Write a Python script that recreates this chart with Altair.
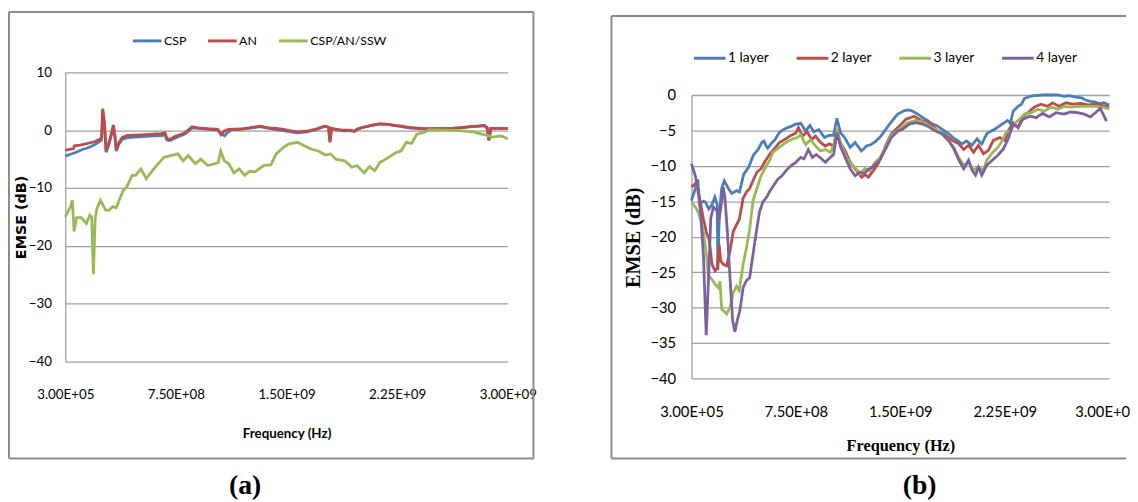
import altair as alt
import pandas as pd

# ---------------- data (frequency in GHz, EMSE in dB) ----------------
FREQ_TICKS = [0.0003, 0.75, 1.5, 2.25, 3.0]
FREQ_LABELS_A = ["3.00E+05", "7.50E+08", "1.50E+09", "2.25E+09", "3.00E+09"]
# the right edge of panel (b) is cropped in the source figure
FREQ_LABELS_B = ["3.00E+05", "7.50E+08", "1.50E+09", "2.25E+09", "3.00E+0"]
Y_TICKS_A = [-40, -30, -20, -10, 0, 10]
Y_TICKS_B = [-40, -35, -30, -25, -20, -15, -10, -5, 0]

SERIES_A = ["CSP", "AN", "CSP/AN/SSW"]
SERIES_B = ["1 layer", "2 layer", "3 layer", "4 layer"]
CAPTIONS = ["(a)", "(b)"]

CSP = [(0.0,-4.5),(0.03,-4.2),(0.07,-3.85),(0.12,-3.3),(0.16,-3.0),(0.20,-2.5),(0.23,-2.0),(0.246,-1.7),
       (0.254,3.4),(0.266,1.0),(0.277,-3.8),(0.297,-2.4),(0.315,-0.6),(0.326,0.7),(0.337,-1.2),(0.346,-3.6),
       (0.364,-2.4),(0.386,-1.6),(0.42,-1.3),(0.47,-1.2),(0.52,-1.1),(0.57,-1.05),(0.61,-1.0),(0.65,-0.95),
       (0.676,-0.8),(0.69,-1.7),(0.71,-1.8),(0.743,-1.4),(0.777,-1.0),(0.80,-0.8),(0.82,-0.5),(0.86,0.4),
       (0.90,0.3),(0.966,0.15),(1.033,0.05),(1.06,-0.6),(1.08,-1.0),(1.10,-0.4),(1.13,0.1),(1.19,0.15),
       (1.25,0.35),(1.32,0.6),(1.38,0.3),(1.43,0.1),(1.48,-0.1),(1.53,-0.3),(1.57,-0.45),(1.64,-0.3),
       (1.70,0.1),(1.76,0.7),(1.785,0.5),(1.795,-2.0),(1.805,0.3),(1.83,0.1),(1.88,-0.1),(1.93,-0.1),
       (1.96,-0.2),(1.98,0.1),(2.02,0.5),(2.07,0.8),(2.13,1.1),(2.19,1.0),(2.24,0.8),(2.28,0.6),(2.33,0.4),
       (2.37,0.3),(2.42,0.2),(2.46,0.2),(2.55,0.25),(2.62,0.3),(2.68,0.45),(2.75,0.6),(2.80,0.7),(2.84,0.8),
       (2.86,0.4),(2.872,-1.6),(2.885,0.3),(2.93,0.3),(2.97,0.25),(3.0,0.3)]

AN = [(0.0,-3.5),(0.03,-3.3),(0.055,-3.2),(0.062,-2.7),(0.10,-2.6),(0.15,-2.3),(0.20,-2.0),(0.23,-1.6),
      (0.246,-1.4),(0.254,3.7),(0.266,1.3),(0.277,-3.6),(0.297,-2.1),(0.315,-0.4),(0.326,0.9),(0.337,-1.0),
      (0.346,-3.4),(0.364,-2.1),(0.386,-1.3),(0.42,-0.9),(0.47,-0.85),(0.52,-0.8),(0.57,-0.75),(0.61,-0.65),
      (0.65,-0.6),(0.676,-0.45),(0.69,-1.45),(0.71,-1.6),(0.743,-1.1),(0.777,-0.8),(0.80,-0.6),(0.82,-0.3),
      (0.86,0.6),(0.90,0.4),(0.966,0.25),(1.033,0.15),(1.056,-0.8),(1.078,-0.15),(1.11,0.15),(1.19,0.2),
      (1.25,0.4),(1.32,0.7),(1.38,0.4),(1.43,0.3),(1.48,0.14),(1.53,-0.1),(1.57,-0.3),(1.64,-0.15),
      (1.70,0.2),(1.76,0.7),(1.785,0.5),(1.795,-2.1),(1.805,0.3),(1.83,0.2),(1.88,0.0),(1.93,0.0),
      (1.96,-0.2),(1.98,0.2),(2.02,0.5),(2.07,0.8),(2.13,1.1),(2.19,1.0),(2.24,0.8),(2.28,0.7),(2.33,0.5),
      (2.37,0.4),(2.42,0.3),(2.46,0.25),(2.55,0.25),(2.62,0.3),(2.68,0.4),(2.75,0.6),(2.80,0.7),(2.84,0.8),
      (2.86,0.4),(2.872,-1.8),(2.885,0.3),(2.93,0.3),(2.97,0.25),(3.0,0.3)]

SSW = [(0.0,-15.0),(0.036,-13.2),(0.048,-12.1),(0.060,-17.5),(0.077,-15.1),(0.108,-15.1),(0.143,-16.1),
       (0.167,-14.7),(0.179,-15.0),(0.191,-24.9),(0.203,-15.2),(0.215,-13.5),(0.239,-12.1),(0.274,-13.8),
       (0.298,-13.8),(0.322,-13.2),(0.346,-13.4),(0.370,-11.8),(0.394,-10.4),(0.417,-9.8),(0.453,-7.8),
       (0.477,-7.8),(0.513,-6.7),(0.549,-8.4),(0.584,-7.2),(0.620,-6.1),(0.668,-4.7),(0.715,-4.4),
       (0.763,-4.1),(0.799,-5.3),(0.834,-4.4),(0.882,-5.8),(0.918,-5.0),(0.966,-6.1),(1.013,-5.8),
       (1.037,-5.6),(1.054,-3.6),(1.078,-5.3),(1.109,-5.8),(1.144,-7.4),(1.180,-6.7),(1.216,-7.8),
       (1.251,-7.1),(1.287,-7.2),(1.347,-6.1),(1.394,-6.0),(1.430,-4.1),(1.478,-3.0),(1.514,-2.4),
       (1.573,-2.1),(1.621,-2.7),(1.669,-3.3),(1.716,-3.6),(1.764,-4.3),(1.800,-4.1),(1.835,-5.0),
       (1.895,-5.3),(1.943,-6.4),(1.978,-6.1),(2.026,-7.4),(2.062,-6.3),(2.098,-7.0),(2.133,-5.6),
       (2.193,-4.7),(2.240,-3.9),(2.276,-3.6),(2.312,-2.1),(2.348,-2.3),(2.383,-0.7),(2.431,-0.4),
       (2.467,0.1),(2.574,0.0),(2.669,-0.1),(2.765,-0.3),(2.812,-0.6),(2.860,-0.9),(2.896,-1.2),
       (2.955,-1.0),(3.0,-1.5)]

L1 = [(0.0,-14.9),(0.028,-13.2),(0.045,-11.9),(0.059,-15.3),(0.087,-15.0),(0.10,-15.1),(0.125,-16.1),
      (0.147,-15.5),(0.168,-14.4),(0.185,-15.5),(0.19,-24.7),(0.20,-16.9),(0.217,-13.2),(0.236,-12.1),
      (0.265,-13.2),(0.29,-13.9),(0.324,-13.5),(0.345,-13.7),(0.375,-11.2),(0.41,-10.2),(0.445,-8.5),
      (0.478,-7.7),(0.505,-6.7),(0.52,-6.5),(0.537,-7.2),(0.548,-7.5),(0.575,-6.8),(0.60,-6.3),(0.631,-5.3),
      (0.66,-4.9),(0.69,-4.6),(0.72,-4.4),(0.749,-4.1),(0.785,-4.0),(0.82,-5.1),(0.851,-4.3),(0.879,-5.2),
      (0.915,-4.9),(0.955,-6.0),(0.986,-5.7),(1.02,-5.7),(1.045,-3.3),(1.07,-5.3),(1.10,-6.0),(1.14,-7.4),
      (1.175,-6.7),(1.22,-7.9),(1.258,-7.2),(1.29,-7.0),(1.324,-6.5),(1.352,-6.0),(1.39,-5.0),(1.423,-4.1),
      (1.46,-3.2),(1.482,-2.7),(1.53,-2.2),(1.56,-2.1),(1.589,-2.3),(1.625,-2.7),(1.66,-3.2),(1.695,-3.6),
      (1.73,-4.1),(1.76,-4.3),(1.79,-4.7),(1.82,-5.1),(1.85,-5.5),(1.878,-6.0),(1.908,-6.4),(1.943,-6.9),
      (1.975,-6.5),(2.014,-7.1),(2.05,-6.2),(2.085,-6.9),(2.12,-5.5),(2.15,-5.1),(2.18,-4.8),(2.21,-4.4),
      (2.238,-4.0),(2.27,-3.6),(2.29,-4.0),(2.31,-2.3),(2.345,-1.6),(2.37,-1.3),(2.39,-0.5),(2.43,-0.2),
      (2.46,-0.1),(2.53,0.0),(2.63,0.0),(2.676,-0.2),(2.71,-0.1),(2.76,-0.3),(2.80,-0.4),(2.83,-0.7),
      (2.865,-0.9),(2.90,-1.0),(2.93,-1.2),(2.96,-1.1),(3.0,-1.4)]

L2 = [(0.0,-13.0),(0.028,-12.5),(0.045,-13.0),(0.064,-15.1),(0.087,-17.6),(0.111,-19.7),(0.123,-20.0),
      (0.135,-21.6),(0.147,-23.9),(0.17,-24.8),(0.187,-24.4),(0.199,-21.1),(0.21,-23.4),(0.229,-23.9),
      (0.253,-24.1),(0.277,-22.0),(0.30,-19.3),(0.324,-18.3),(0.343,-17.6),(0.371,-14.6),(0.395,-13.7),
      (0.418,-13.2),(0.442,-12.1),(0.47,-10.9),(0.50,-10.4),(0.525,-9.5),(0.548,-8.8),(0.572,-8.1),
      (0.608,-7.3),(0.631,-6.7),(0.678,-6.2),(0.714,-5.7),(0.749,-5.4),(0.768,-4.6),(0.797,-5.8),
      (0.832,-5.2),(0.863,-6.3),(0.891,-5.8),(0.927,-6.7),(0.962,-7.2),(0.99,-6.9),(1.021,-7.2),
      (1.045,-4.9),(1.069,-6.7),(1.104,-7.9),(1.14,-9.5),(1.175,-10.4),(1.222,-11.6),(1.246,-11.2),
      (1.27,-11.6),(1.305,-10.7),(1.34,-9.7),(1.365,-8.6),(1.40,-6.9),(1.435,-5.5),(1.482,-4.6),
      (1.541,-3.4),(1.60,-3.0),(1.648,-3.6),(1.707,-3.9),(1.766,-5.0),(1.813,-5.5),(1.872,-6.4),
      (1.92,-6.9),(1.955,-7.7),(1.99,-7.1),(2.026,-8.1),(2.061,-7.1),(2.097,-8.3),(2.132,-7.8),
      (2.168,-6.4),(2.215,-6.0),(2.25,-6.4),(2.274,-5.1),(2.31,-3.9),(2.345,-4.6),(2.38,-3.0),
      (2.416,-2.5),(2.463,-1.7),(2.51,-1.3),(2.557,-1.6),(2.593,-1.1),(2.64,-1.6),(2.688,-1.1),
      (2.735,-1.3),(2.794,-1.2),(2.85,-1.4),(2.90,-1.3),(2.95,-1.5),(3.0,-1.7)]

L3 = [(0.0,-15.1),(0.028,-15.8),(0.052,-16.7),(0.076,-18.3),(0.099,-21.1),(0.123,-25.5),(0.147,-26.0),
      (0.17,-26.7),(0.194,-27.2),(0.205,-26.3),(0.217,-30.2),(0.24,-30.6),(0.253,-30.9),(0.277,-30.0),
      (0.300,-27.9),(0.324,-27.0),(0.343,-27.6),(0.371,-23.9),(0.395,-21.6),(0.418,-19.0),(0.442,-14.9),
      (0.47,-13.2),(0.50,-11.4),(0.532,-10.2),(0.56,-9.3),(0.584,-8.1),(0.631,-7.4),(0.678,-6.7),
      (0.726,-6.2),(0.761,-6.0),(0.785,-5.6),(0.82,-7.0),(0.856,-6.3),(0.891,-7.2),(0.927,-7.9),
      (0.962,-7.7),(0.998,-8.1),(1.021,-7.2),(1.045,-5.1),(1.069,-6.7),(1.104,-8.4),(1.14,-9.7),
      (1.175,-10.2),(1.21,-11.1),(1.246,-10.4),(1.281,-10.7),(1.317,-9.5),(1.352,-8.9),(1.40,-7.1),
      (1.435,-5.7),(1.494,-4.8),(1.553,-3.9),(1.612,-3.6),(1.671,-3.9),(1.73,-4.6),(1.79,-5.3),
      (1.837,-6.2),(1.884,-7.4),(1.92,-8.8),(1.955,-9.9),(1.99,-9.5),(2.026,-10.6),(2.061,-10.2),
      (2.097,-10.6),(2.12,-9.2),(2.163,-8.1),(2.20,-7.4),(2.234,-6.4),(2.258,-5.3),(2.29,-5.1),
      (2.326,-3.9),(2.357,-3.4),(2.392,-2.7),(2.44,-2.5),(2.487,-2.0),(2.534,-2.3),(2.582,-1.7),
      (2.63,-2.0),(2.676,-1.6),(2.723,-1.7),(2.794,-1.6),(2.85,-1.6),(2.90,-1.6),(2.95,-1.7),(3.0,-2.0)]

L4 = [(0.0,-9.7),(0.028,-11.4),(0.052,-14.2),(0.069,-17.4),(0.087,-23.0),(0.106,-33.9),(0.123,-25.8),
      (0.139,-17.4),(0.158,-15.8),(0.182,-16.3),(0.201,-17.2),(0.217,-15.1),(0.229,-13.0),(0.241,-14.6),
      (0.258,-19.3),(0.277,-25.8),(0.296,-31.8),(0.312,-33.4),(0.329,-31.8),(0.348,-30.4),(0.371,-27.2),
      (0.395,-26.2),(0.418,-25.8),(0.442,-22.5),(0.466,-19.3),(0.489,-16.5),(0.513,-15.1),(0.541,-14.4),
      (0.565,-13.5),(0.589,-12.8),(0.619,-11.9),(0.65,-11.4),(0.678,-10.7),(0.714,-10.0),(0.749,-9.5),
      (0.785,-8.8),(0.809,-9.0),(0.839,-7.7),(0.868,-8.8),(0.896,-8.4),(0.934,-9.0),(0.962,-9.5),
      (0.998,-8.8),(1.021,-8.4),(1.045,-5.3),(1.069,-7.2),(1.104,-8.8),(1.14,-10.4),(1.175,-11.4),
      (1.21,-10.9),(1.24,-11.1),(1.27,-10.5),(1.305,-10.1),(1.352,-9.2),(1.40,-7.4),(1.435,-6.0),
      (1.482,-5.1),(1.518,-4.8),(1.565,-4.1),(1.612,-3.9),(1.66,-4.1),(1.695,-4.4),(1.754,-5.1),
      (1.80,-5.5),(1.849,-6.5),(1.884,-7.6),(1.92,-9.2),(1.955,-10.4),(1.99,-9.2),(2.014,-10.6),
      (2.04,-11.3),(2.061,-10.2),(2.085,-11.3),(2.12,-9.9),(2.16,-9.2),(2.20,-8.5),(2.24,-7.6),
      (2.274,-6.2),(2.31,-4.1),(2.345,-4.6),(2.38,-3.4),(2.43,-3.0),(2.475,-3.2),(2.52,-2.6),
      (2.57,-3.1),(2.617,-2.5),(2.676,-2.7),(2.723,-2.4),(2.77,-2.5),(2.82,-2.7),(2.865,-3.1),
      (2.936,-1.9),(2.98,-3.7)]

# ---------------- styling ----------------
COL_A = ["#4A7EBB", "#BE4B48", "#98B954"]
COL_B = ["#4A7EBB", "#BE4B48", "#98B954", "#7D60A0"]
SANS = "Lato"
SERIF = "Liberation Serif"
GRID = "#a0a0a0"
FRAME = "#8c8c8c"


def long_df(names, series):
    rows = []
    for name, pts in zip(names, series):
        for f, v in pts:
            rows.append({"f": f, "v": v, "s": name})
    return pd.DataFrame(rows)


def label_expr(vals, labels):
    expr = "'" + labels[-1] + "'"
    for lo, hi, lab in reversed(list(zip(vals[:-1], vals[1:], labels[:-1]))):
        expr = f"datum.value < {(lo + hi) / 2} ? '{lab}' : ({expr})"
    return expr


one = pd.DataFrame({"k": [0]})


def frame_rule(x, x2, y, y2):
    return alt.Chart(one).mark_rule(stroke=FRAME, strokeWidth=2).encode(
        x=alt.value(x), x2=alt.value(x2), y=alt.value(y), y2=alt.value(y2))


def panel(df, names, colors, w, h, yrange, yticks, ydomain, cfg, caption, labels):
    last_test = "datum.value > 2.9"
    x = alt.X("f:Q", scale=alt.Scale(domain=[0.0003, 3.0], nice=False, zero=False),
              axis=alt.Axis(values=FREQ_TICKS, labelExpr=label_expr(FREQ_TICKS, labels), grid=False,
                            domain=False, ticks=False, labelFlush=False, labelOverlap=False,
                            labelBaseline="middle", labelPadding=cfg["xlp"], labelFont=SANS,
                            labelFontSize=cfg["lfs"], labelColor="black",
                            labelAlign={"condition": {"test": last_test, "value": cfg["last_align"]},
                                        "value": "center"},
                            labelOffset={"condition": {"test": last_test, "value": cfg["last_off"]},
                                         "value": 0},
                            title="Frequency (Hz)", titleFont=cfg["tfont"],
                            titleFontWeight="bold", titleFontSize=cfg["xtfs"], titleColor="black",
                            titleX=w / 2, titleY=cfg["xty"], titleBaseline="middle", titleAlign="center"))
    y = alt.Y("v:Q", scale=alt.Scale(domain=ydomain, range=yrange, nice=False, zero=False),
              axis=alt.Axis(values=yticks, grid=True, gridColor=GRID, gridWidth=1.3, domain=True,
                            domainColor=GRID, domainWidth=1.3, ticks=False, labelPadding=cfg["ylp"],
                            labelFont=SANS, labelFontSize=cfg["lfs"], labelColor="black",
                            title="EMSE (dB)", titleFont=cfg["yfont"], titleFontWeight="bold",
                            titleFontSize=cfg["ytfs"], titleColor="black", titleAngle=270,
                            titleX=cfg["ytx"], titleY=cfg["yty"], titleBaseline="middle", titleAlign="center"))
    color = alt.Color("s:N", scale=alt.Scale(domain=names, range=colors),
                      legend=alt.Legend(orient="none", legendX=cfg["lx"], legendY=cfg["ly"],
                                        direction="horizontal", columns=len(names), title=None,
                                        symbolType="stroke", symbolSize=cfg["ss"], symbolStrokeWidth=3,
                                        labelFont=SANS, labelFontSize=cfg["legfs"], labelColor="black",
                                        labelOffset=cfg["lo"], columnPadding=cfg["cp"], padding=0))
    lines = alt.Chart(df).mark_line(strokeWidth=2.8).encode(x=x, y=y, color=color)
    fx1, fx2, fy1, fy2 = cfg["frame"]
    layers = [frame_rule(fx1, fx2, fy1, fy1), frame_rule(fx1, fx2, fy2, fy2), frame_rule(fx1, fx1, fy1, fy2)]
    if cfg["right_edge"]:
        layers.append(frame_rule(fx2, fx2, fy1, fy2))
    cap = alt.Chart(pd.DataFrame({"t": [caption]})).mark_text(
        font=SERIF, fontWeight="bold", fontSize=28, baseline="middle", align="center").encode(
        text="t:N", x=alt.value(cfg["cx"]), y=alt.value(cfg["cy"]))
    return alt.layer(*layers, lines, cap).properties(width=w, height=h)


cfg_a = dict(xlp=33, lfs=13.5, tfont=SANS, xtfs=13.5, xty=73, ylp=14, yfont="DejaVu Sans", ytfs=14.5,
             ytx=-44, yty=146.5, lx=67, ly=-48, ss=841, legfs=12.5, lo=1, cp=15,
             frame=(-57, 474, -61, 391), right_edge=True, cx=182, cy=419,
             last_align="center", last_off=0)
cfg_b = dict(xlp=34, lfs=15, tfont=SERIF, xtfs=16.5, xty=68, ylp=16, yfont=SERIF, ytfs=20.5,
             ytx=-59, yty=167, lx=1, ly=-32, ss=1024, legfs=14, lo=1, cp=21,
             frame=(-81, 440, -57, 391), right_edge=False, cx=231, cy=419,
             last_align="left", last_off=-35)

pa = panel(long_df(SERIES_A, [CSP, AN, SSW]), SERIES_A, COL_A, 448, 293, [293, 0], Y_TICKS_A,
           [-40, 10], cfg_a, CAPTIONS[0], FREQ_LABELS_A)
pb = panel(long_df(SERIES_B, [L1, L2, L3, L4]), SERIES_B, COL_B, 423, 310, [310, 23], Y_TICKS_B,
           [-40, 0], cfg_b, CAPTIONS[1], FREQ_LABELS_B)

chart = (alt.hconcat(pa, pb, spacing=75)
         .resolve_scale(color="independent", x="independent", y="independent")
         .properties(padding=0, background="white")
         .configure_view(strokeWidth=0))

chart.save("out.html", embed_options={"renderer": "svg", "actions": False})
